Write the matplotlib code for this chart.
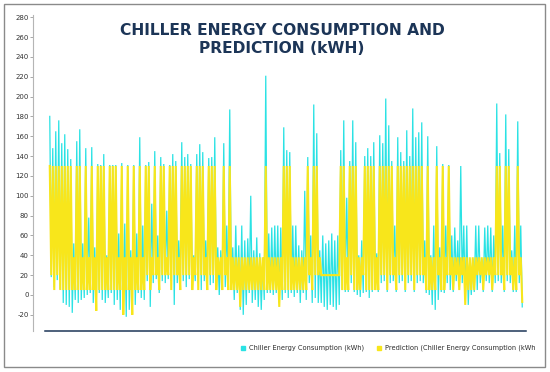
import numpy as np
import matplotlib
matplotlib.use("Agg")
import matplotlib.pyplot as plt
from matplotlib.lines import Line2D
from matplotlib.patches import Rectangle

plt.rcParams['axes.unicode_minus'] = False
plt.rcParams['font.family'] = ['DejaVu Sans']

# Values, two samples per ~3px column (high, low)
pred_hi = [
    130, 130, 130, 130, 130, 130, 130, 130, 38, 130,
    130, 38, 130, 38, 130, 38, 130, 130, 130, 38,
    130, 130, 130, 38, 130, 38, 130, 38, 130, 38,
    130, 38, 130, 130, 38, 130, 38, 130, 130, 38,
    130, 130, 130, 38, 130, 130, 130, 130, 38, 130,
    130, 130, 38, 130, 130, 130, 38, 38, 130, 38,
    130, 38, 38, 38, 38, 38, 38, 38, 38, 38,
    38, 38, 130, 38, 38, 38, 38, 38, 130, 130,
    130, 38, 38, 38, 38, 38, 130, 38, 130, 130,
    38, 20, 20, 20, 20, 20, 20, 130, 130, 38,
    130, 130, 130, 38, 38, 130, 130, 130, 130, 38,
    130, 130, 130, 130, 130, 38, 130, 130, 130, 130,
    130, 130, 130, 130, 130, 38, 130, 38, 38, 130,
    38, 130, 38, 130, 38, 38, 38, 38, 38, 38,
    38, 38, 38, 38, 38, 38, 38, 38, 38, 130,
    130, 38, 130, 130, 38, 38, 130, 38,
]
pred_lo = [
    20, 5, 20, 5, 5, 5, 5, 5, 5, 5,
    5, 5, 5, 5, 5, -16, 5, 5, 5, 5,
    5, 5, 5, 5, -20, 5, 5, -20, 5, 5,
    5, 5, 20, 5, 20, 20, 5, 20, 20, 20,
    5, 20, 20, 5, 20, 20, 20, 5, 20, 5,
    20, 20, 5, 20, 20, 5, 20, 5, 20, 5,
    5, 5, 5, -12, 5, 5, 5, 5, 5, 5,
    5, 5, 5, 5, 5, 5, -12, 5, 5, 5,
    5, 5, 5, 5, 5, 5, 20, 5, 20, 20,
    20, 20, 20, 20, 20, 20, 20, 5, 5, 5,
    20, 5, 5, 5, 20, 5, 5, 5, 5, 5,
    20, 20, 5, 20, 20, 5, 20, 20, 5, 20,
    20, 5, 20, 20, 20, 5, 5, 5, 5, 20,
    5, 5, 20, 20, 5, 20, 5, 20, -10, 5,
    5, 5, 20, 20, 5, 20, 20, 5, 20, 20,
    20, 5, 20, 20, 5, 5, 20, -7,
]
actual_hi = [
    180, 148, 165, 176, 153, 162, 147, 137, 52, 155,
    167, 52, 148, 78, 149, 48, 132, 131, 142, 40,
    131, 131, 131, 62, 133, 72, 131, 45, 131, 62,
    159, 70, 131, 134, 92, 145, 60, 139, 132, 85,
    131, 142, 135, 55, 154, 139, 142, 132, 40, 142,
    152, 144, 55, 138, 139, 159, 48, 45, 153, 70,
    187, 48, 70, 50, 70, 55, 57, 100, 45, 58,
    42, 36, 221, 62, 68, 70, 70, 68, 169, 146,
    144, 70, 70, 50, 45, 105, 139, 60, 192, 163,
    45, 60, 52, 55, 62, 55, 60, 146, 176, 98,
    135, 176, 154, 40, 55, 140, 148, 140, 154, 42,
    161, 153, 198, 171, 135, 70, 159, 144, 135, 166,
    140, 188, 159, 164, 174, 55, 160, 40, 70, 150,
    48, 132, 70, 131, 60, 68, 55, 130, 70, 70,
    36, 36, 70, 70, 36, 68, 70, 68, 60, 193,
    143, 70, 182, 147, 45, 70, 175, 70,
]
actual_lo = [
    18, 8, 15, 6, -8, -10, -12, -18, -5, -8,
    -5, -3, 0, 2, -8, -14, 2, -5, -8, -3,
    2, -10, -5, -15, -18, -22, -15, -5, -10, 2,
    -3, -5, 14, -12, 12, 16, 2, 14, 12, 16,
    14, -10, 12, 15, 14, 8, 16, 12, 14, 12,
    5, 14, 16, 10, 12, 14, 0, 14, 8, 12,
    14, -5, 2, -15, -20, -10, 2, -8, -5, -12,
    -15, -5, 2, 2, 0, 2, -8, -5, 2, -3,
    2, -2, 2, -8, 2, -5, 12, -8, -3, -8,
    -8, -12, -15, -10, -12, -15, -10, 5, 3, 3,
    12, 3, 0, -2, 2, 3, -3, 3, 5, 3,
    12, 14, 3, 12, 14, 3, 12, 14, 3, 12,
    14, 3, 12, 14, 12, 2, 0, -10, -15, -5,
    3, 2, 12, 5, 3, 14, 8, 12, -5, -10,
    0, 3, 5, 12, 3, 14, 12, 3, 12, 14,
    12, 3, 14, 12, 3, 3, 12, -12,
]

title = "CHILLER ENERGY CONSUMPTION AND\nPREDICTION (kWH)"
label_actual = "Chiller Energy Consumption (kWh)"
label_pred = "Prediction (Chiller Energy Consumption (kWh"
yticks = list(range(-20, 281, 20))

cyan = '#2ae2e4'
yellow = '#f8e61b'
navy = '#1c3557'

actual = np.column_stack([actual_hi, actual_lo]).ravel()
pred = np.column_stack([pred_hi, pred_lo]).ravel()
x = np.arange(len(actual))

fig = plt.figure(figsize=(5.5, 3.72), dpi=100)
ax = fig.add_axes([45 / 550, 1 - 330.7 / 372, 481 / 550, 315.7 / 372])

ax.plot(x, actual, color=cyan, lw=0.9, solid_joinstyle='miter', zorder=2)
ax.plot(x, pred, color=yellow, lw=1.5, solid_joinstyle='miter', zorder=3)

ax.set_xlim(-3.17, 317.5)
ax.set_ylim(-36, 282.2)
ax.set_xticks([])
ax.set_yticks(yticks)
ax.set_yticklabels([str(v) for v in yticks])
ax.tick_params(axis='y', length=2.2, width=0.6, color='#9a9a9a', pad=1,
               labelsize=5, labelcolor='#333333')

for s in ['top', 'right']:
    ax.spines[s].set_visible(False)
ax.spines['left'].set_position(('outward', 8.6))
ax.spines['left'].set_color('#b5b5b5')
ax.spines['left'].set_linewidth(0.8)
ax.spines['bottom'].set_color(navy)
ax.spines['bottom'].set_linewidth(1.1)

fig.text(0.513, 0.895, title, ha='center', va='center', fontsize=11.2,
         fontweight='bold', color=navy, linespacing=1.25)

# legend row at the bottom
ly = 1 - 348 / 372
fig.add_artist(Line2D([243 / 550], [ly], marker='s', markersize=2.4,
                      color=cyan, transform=fig.transFigure))
fig.text(249 / 550, ly, label_actual, ha='left', va='center', fontsize=4.8,
         color='#2a2a2a')
fig.add_artist(Line2D([379 / 550], [ly], marker='s', markersize=2.4,
                      color=yellow, transform=fig.transFigure))
fig.text(385 / 550, ly, label_pred, ha='left', va='center', fontsize=4.8,
         color='#2a2a2a')

# outer frame
fig.add_artist(Rectangle((4 / 550, 5 / 372), 541 / 550, 363 / 372, fill=False,
                         edgecolor='#8a8a8a', lw=1.0, transform=fig.transFigure))

fig.savefig("out.png", dpi=100)
